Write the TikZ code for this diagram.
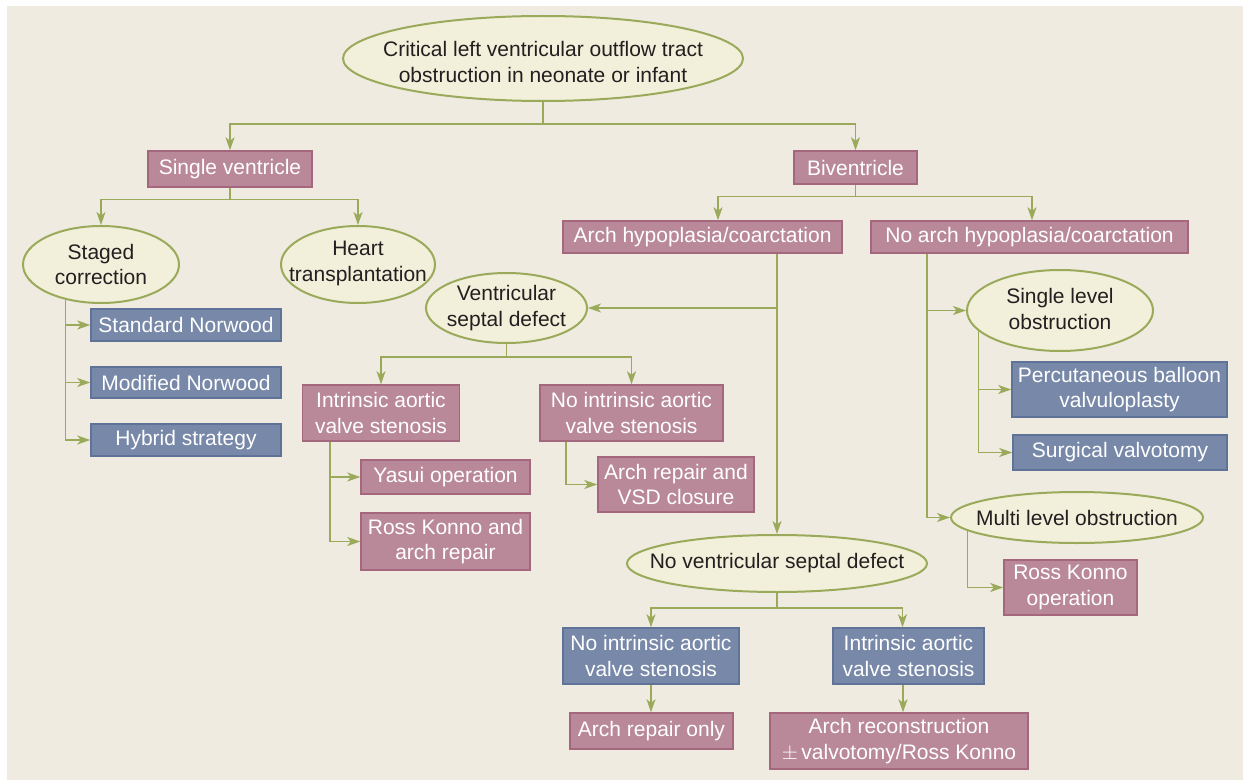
\documentclass[tikz,border=0pt]{standalone}
\usepackage{fontspec}
\setmainfont{Liberation Sans}
\usetikzlibrary{arrows.meta,shapes.geometric}
\definecolor{bgc}{HTML}{EFEBE1}
\definecolor{ellfill}{HTML}{F2F0DA}
\definecolor{grn}{HTML}{9AAA5A}
\definecolor{pinkf}{HTML}{B9899A}
\definecolor{pinkd}{HTML}{A5677E}
\definecolor{bluef}{HTML}{7788A8}
\definecolor{blued}{HTML}{5F7398}
\definecolor{txtd}{HTML}{231F20}
\begin{document}
\begin{tikzpicture}[x=1pt,y=-1pt,
  font=\fontsize{21}{25.5}\selectfont,
  ell/.style 2 args={ellipse,draw=grn,fill=ellfill,line width=2pt,inner sep=0pt,minimum width=#1,minimum height=#2},
  etxt/.style={text=txtd,align=center,inner sep=0pt},
  pbox/.style 2 args={rectangle,draw=pinkd,fill=pinkf,line width=1.5pt,text=white,align=center,inner sep=0pt,minimum width=#1,minimum height=#2},
  bbox/.style 2 args={rectangle,draw=blued,fill=bluef,line width=1.5pt,text=white,align=center,inner sep=0pt,minimum width=#1,minimum height=#2},
  arr/.style={draw=grn,line width=1.3pt,-{Stealth[length=13pt,width=9pt,inset=3.5pt]}},
  ln/.style={draw=grn,line width=1.3pt}]
\useasboundingbox (0,0) rectangle (1243,781);
\fill[white] (0,0) rectangle (1243,781);
\fill[bgc] (7,6) rectangle (1243,780);

% ellipses
\node[ell={400}{85},label={[etxt,yshift=-3.5pt]center:{Critical left ventricular outflow tract\\obstruction in neonate or infant}}] (top) at (543,58.5) {};
\node[ell={156}{77},label={[etxt]center:{Staged\\correction}}] (staged) at (101,264.5) {};
\node[ell={154}{77},label={[etxt,yshift=1pt]center:{Heart\\transplantation}}] (heart) at (358,264.5) {};
\node[ell={161}{70},label={[etxt]center:{Ventricular\\septal defect}}] (vsd) at (506.5,308) {};
\node[ell={300}{57},label={[etxt]center:{No ventricular septal defect}}] (novsd) at (777,563.5) {};
\node[ell={186}{81},label={[etxt,yshift=1.5pt]center:{Single level\\obstruction}}] (single) at (1060,310.5) {};
\node[ell={252}{51},label={[etxt]center:{Multi level obstruction}}] (multi) at (1077,517.5) {};

% boxes
\node[pbox={164}{36}] (sv) at (230,169) {Single ventricle};
\node[pbox={123}{33}] (bv) at (855.5,167.5) {Biventricle};
\node[bbox={190}{32}] (snw) at (186,325) {Standard Norwood};
\node[bbox={190}{31}] (mnw) at (186,382.5) {Modified Norwood};
\node[bbox={190}{32}] (hyb) at (186,440) {Hybrid strategy};
\node[pbox={279}{32}] (arch) at (702.5,237) {Arch hypoplasia/coarctation};
\node[pbox={317}{32}] (noarch) at (1029.5,237) {No arch hypoplasia/coarctation};
\node[pbox={157}{56}] (ias) at (381,413) {Intrinsic aortic\\valve stenosis};
\node[pbox={183}{56}] (nias) at (631.5,413) {No intrinsic aortic\\valve stenosis};
\node[pbox={169}{34}] (yasui) at (445.5,477) {Yasui operation};
\node[pbox={169}{57}] (ross) at (445.5,541.5) {Ross Konno and\\arch repair};
\node[pbox={156}{55}] (arvsd) at (676,484.5) {Arch repair and\\VSD closure};
\node[bbox={176}{56}] (nias2) at (651,656) {No intrinsic aortic\\valve stenosis};
\node[bbox={151}{56}] (ias2) at (908.5,656) {Intrinsic aortic\\valve stenosis};
\node[pbox={163}{36}] (aro) at (651.5,731) {Arch repair only};
\node[pbox={258}{56}] (arc) at (899,741) {Arch reconstruction\\$\pm$\,valvotomy/Ross Konno};
\node[bbox={215}{55}] (pbv) at (1119.5,389.5) {Percutaneous balloon\\valvuloplasty};
\node[bbox={214}{35}] (sval) at (1120,452.5) {Surgical valvotomy};
\node[pbox={133}{55}] (rkop) at (1070.5,587.5) {Ross Konno\\operation};

% connectors
\draw[arr] (top.south) -- ++(0,22) -| (sv.north);
\draw[arr] (top.south) -- ++(0,22) -| (bv.north);
\draw[arr] (sv.south) -- ++(0,12) -| (staged.north);
\draw[arr] (sv.south) -- ++(0,12) -| (heart.north);

\coordinate (stt) at (staged.225);
\draw[arr] (stt) |- (hyb.west);
\draw[arr] (snw.west -| stt) -- (snw.west);
\draw[arr] (mnw.west -| stt) -- (mnw.west);

\draw[arr] (bv.south) -- ++(0,12) -| ([xshift=15.5pt]arch.north);
\draw[arr] (bv.south) -- ++(0,12) -| ([xshift=2.5pt]noarch.north);

\draw[arr] (arch.south -| novsd.north) -- (novsd.north);
\draw[arr] (vsd.east -| novsd.north) -- (vsd.east);

\draw[arr] (vsd.south) -- ++(0,13) -| (ias.north);
\draw[arr] (vsd.south) -- ++(0,13) -| (nias.north);

\coordinate (iast) at ([xshift=-51pt]ias.south);
\draw[arr] (iast) |- (ross.west);
\draw[arr] (yasui.west -| iast) -- (yasui.west);
\draw[arr] ([xshift=-65.5pt]nias.south) |- (arvsd.west);

\draw[arr] (novsd.south) -- ++(0,15) -| (nias2.north);
\draw[arr] (novsd.south) -- ++(0,15) -| ([xshift=-6pt]ias2.north);
\draw[arr] (nias2.south) -- (nias2.south |- aro.north);
\coordinate (ias2b) at ([xshift=-5.5pt]ias2.south);
\draw[arr] (ias2b) -- (ias2b |- arc.north);

\coordinate (nat) at ([xshift=-102.5pt]noarch.south);
\draw[arr] (nat) |- (multi.west);
\draw[arr] (single.west -| nat) -- (single.west);

\coordinate (slt) at (single.194.5);
\draw[arr] (slt) |- (sval.west);
\draw[arr] (pbv.west -| slt) -- (pbv.west);

\draw[arr] (multi.187.6) |- (rkop.west);
\end{tikzpicture}
\end{document}
